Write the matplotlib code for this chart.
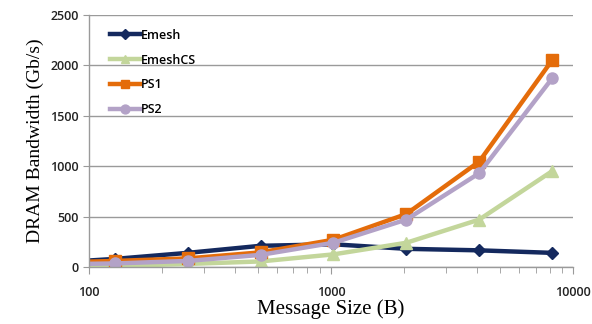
import numpy as np
import matplotlib
matplotlib.use("Agg")
import matplotlib.pyplot as plt
from matplotlib.ticker import FixedLocator, FixedFormatter

# message sizes (B); the first point lies left of the axis start and is clipped
sizes = [64, 128, 256, 512, 1024, 2048, 4096, 8192]
emesh = [35, 80, 140, 210, 225, 180, 165, 140]
emesh_cs = [5, 10, 30, 55, 125, 240, 470, 950]
ps1 = [40, 60, 85, 145, 270, 525, 1045, 2050]
ps2 = [25, 35, 60, 120, 240, 470, 930, 1870]
xtick_vals = [100, 1000, 10000]
xtick_labels = ["100", "1000", "10000"]

series = [
    ("Emesh", emesh, "#14295E", "D", 6),
    ("EmeshCS", emesh_cs, "#C3D69B", "^", 8),
    ("PS1", ps1, "#E46C0A", "s", 8),
    ("PS2", ps2, "#B3A2C7", "o", 8),
]

fig = plt.figure(figsize=(5.92, 3.24), dpi=100)
ax = fig.add_axes([0.150, 0.176, 0.818, 0.778])

for name, vals, col, mk, ms in series:
    ax.plot(sizes, vals, color=col, lw=3.2, marker=mk, markersize=ms,
            markeredgecolor=col, label=name)

ax.set_xscale("log")
ax.set_xlim(100, 10000)
ax.set_ylim(0, 2500)
ax.set_yticks(np.arange(0, 2501, 500))
ax.xaxis.set_major_locator(FixedLocator(xtick_vals))
ax.xaxis.set_major_formatter(FixedFormatter(xtick_labels))
ax.xaxis.set_minor_formatter(FixedFormatter([]))
ax.yaxis.grid(True, color="#9A9A9A", lw=1.0)
ax.set_axisbelow(True)

for s in ["top", "right"]:
    ax.spines[s].set_visible(False)
for s in ["left", "bottom"]:
    ax.spines[s].set_color("#9A9A9A")
    ax.spines[s].set_linewidth(1.0)

ax.tick_params(axis="both", which="both", colors="#9A9A9A", labelcolor="#222222",
               labelsize=9, direction="out")
ax.tick_params(axis="y", length=4)
ax.tick_params(axis="x", which="major", length=5, pad=9)
ax.tick_params(axis="x", which="minor", length=4)
for lbl in ax.get_xticklabels() + ax.get_yticklabels():
    lbl.set_fontfamily("Open Sans")
    lbl.set_fontweight("semibold")

ax.set_xlabel("Message Size (B)", family="Liberation Serif", fontsize=15, labelpad=0)
ax.set_ylabel("DRAM Bandwidth (Gb/s)", family="Liberation Serif", fontsize=14, labelpad=4)

leg = ax.legend(loc="upper left", frameon=False, handlelength=2.4, handletextpad=0.1,
                labelspacing=0.95, bbox_to_anchor=(0.02, 0.99), markerscale=0.8,
                prop={"family": "Open Sans", "weight": "semibold", "size": 9})

fig.savefig("out.png", dpi=100)
